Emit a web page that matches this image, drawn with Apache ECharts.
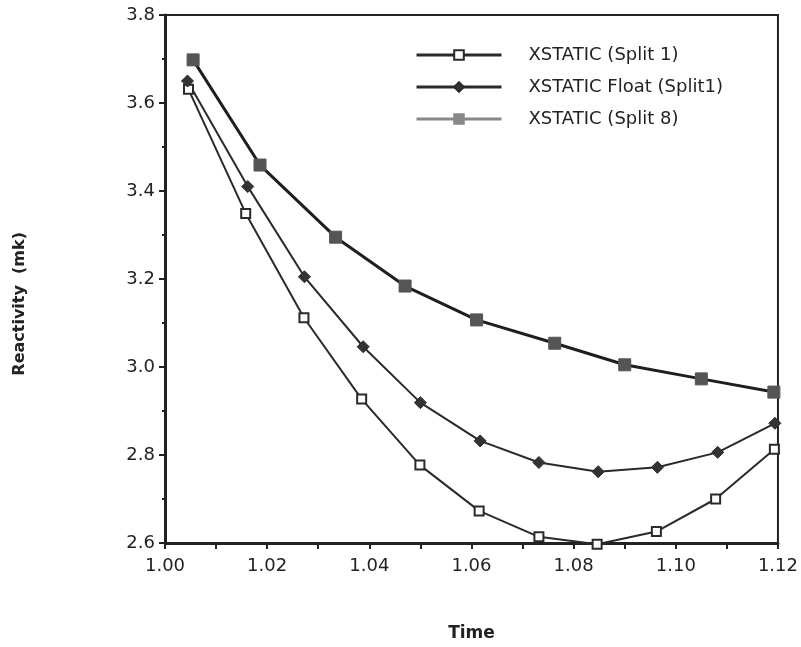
<!DOCTYPE html>
<html>
<head>
<meta charset="utf-8">
<script src="https://cdn.jsdelivr.net/npm/echarts@6/dist/echarts.min.js"></script>
<style>html,body{margin:0;padding:0;background:#fff}#c{width:801px;height:647px}</style>
</head>
<body>
<div id="c"></div>
<script>
var seriesNames = ['XSTATIC (Split 1)', 'XSTATIC Float (Split1)', 'XSTATIC (Split 8)'];
var split1X = [1.0046,1.0158,1.0272,1.0385,1.0499,1.0615,1.0732,1.0846,1.0962,1.1078,1.1193];
var split1Y = [3.631,3.349,3.112,2.927,2.777,2.673,2.614,2.597,2.626,2.700,2.813];
var floatX = [1.0044,1.0162,1.0273,1.0388,1.0500,1.0617,1.0732,1.0848,1.0964,1.1082,1.1194];
var floatY = [3.650,3.410,3.205,3.046,2.919,2.832,2.783,2.762,2.772,2.806,2.872];
var split8X = [1.0055,1.0186,1.0334,1.0470,1.0610,1.0763,1.0900,1.1050,1.1192];
var split8Y = [3.698,3.459,3.295,3.184,3.107,3.054,3.005,2.973,2.943];
var xTickLabels = ['1.00','1.02','1.04','1.06','1.08','1.10','1.12'];
var yTickLabels = ['2.6','2.8','3.0','3.2','3.4','3.6','3.8'];

function pairs(xs, ys){ return xs.map(function(x,i){ return [x, ys[i]]; }); }

var font = 'DejaVu Sans';
var chart = echarts.init(document.getElementById('c'), null, {renderer:'canvas'});
chart.setOption({
  backgroundColor: '#fff',
  animation: false,
  grid: {left:165, right:23, top:15, bottom:104, show:true, borderColor:'#222', borderWidth:2, backgroundColor:'transparent'},
  legend: {
    orient:'vertical', left:415, top:46, padding:0, itemWidth:85, itemHeight:12, itemGap:14,
    textStyle:{fontFamily:font, fontSize:18, color:'#222', padding:[0,0,0,22]},
    data:[
      {name:seriesNames[0], lineStyle:{width:3}},
      {name:seriesNames[1], lineStyle:{width:3}},
      {name:seriesNames[2], itemStyle:{color:'#888', borderColor:'#888'}, lineStyle:{color:'#888', width:3}}
    ]
  },
  xAxis: {
    type:'value', min:1.00, max:1.12, interval:0.02,
    name:'Time', nameLocation:'middle', nameGap:82,
    nameTextStyle:{fontFamily:font, fontSize:17, fontWeight:'bold', color:'#222'},
    axisLine:{lineStyle:{color:'#222', width:3}},
    axisTick:{show:true, inside:false, length:6, lineStyle:{color:'#222', width:2}},
    minorTick:{show:true, splitNumber:2, length:6, lineStyle:{color:'#222', width:2}},
    splitLine:{show:false},
    axisLabel:{fontFamily:font, fontSize:18, color:'#222', margin:14,
      formatter:function(v){ var i=Math.round((v-1.00)/0.02); return xTickLabels[i]; }}
  },
  yAxis: {
    type:'value', min:2.6, max:3.8, interval:0.2,
    axisLine:{show:true, lineStyle:{color:'#222', width:3}},
    axisTick:{show:true, inside:false, length:6, lineStyle:{color:'#222', width:2}},
    minorTick:{show:true, splitNumber:2, length:3, lineStyle:{color:'#222', width:2}},
    splitLine:{show:false},
    axisLabel:{fontFamily:font, fontSize:18, color:'#222', margin:10,
      formatter:function(v){ var i=Math.round((v-2.6)/0.2); return yTickLabels[i]; }}
  },
  graphic:[{
    type:'text', left:12, top:232, rotation:Math.PI/2,
    style:{text:'Reactivity  (mk)', font:'bold 16px "DejaVu Sans"', fill:'#222'}
  }],
  series: [
    {name:seriesNames[0], type:'line', data:pairs(split1X, split1Y), clip:false,
      symbol:'rect', symbolSize:9, showAllSymbol:true,
      lineStyle:{color:'#2a2a2a', width:2},
      itemStyle:{color:'#fff', borderColor:'#2a2a2a', borderWidth:2}},
    {name:seriesNames[1], type:'line', data:pairs(floatX, floatY), clip:false,
      symbol:'diamond', symbolSize:12,
      lineStyle:{color:'#2a2a2a', width:2},
      itemStyle:{color:'#333', borderColor:'#2a2a2a', borderWidth:1}},
    {name:seriesNames[2], type:'line', data:pairs(split8X, split8Y), clip:false,
      symbol:'rect', symbolSize:12,
      lineStyle:{color:'#1e1e1e', width:3},
      itemStyle:{color:'#555', borderColor:'#555', borderWidth:1}}
  ]
});
</script>
</body>
</html>
